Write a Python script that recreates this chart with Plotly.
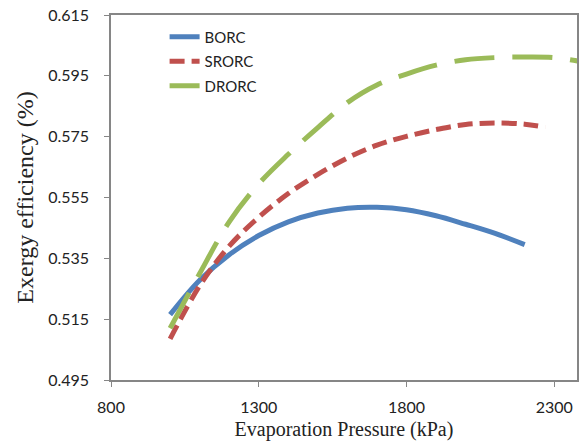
import plotly.graph_objects as go

pressure_borc = [1000, 1100, 1200, 1300, 1400, 1500, 1600, 1700, 1800, 1900, 2000, 2100, 2200]
eff_borc = [0.5165, 0.5278, 0.5362, 0.5425, 0.5470, 0.5499, 0.5515, 0.5518, 0.5510, 0.5490, 0.5462, 0.5432, 0.5395]

pressure_srorc = [1000, 1100, 1200, 1300, 1400, 1500, 1600, 1700, 1800, 1900, 2000, 2100, 2200, 2270]
eff_srorc = [0.5085, 0.5260, 0.5390, 0.5485, 0.5563, 0.5626, 0.5680, 0.5722, 0.5751, 0.5773, 0.5790, 0.5795, 0.5791, 0.5781]

pressure_drorc = [1000, 1100, 1200, 1300, 1400, 1500, 1600, 1700, 1800, 1900, 2000, 2100, 2200, 2300, 2390]
eff_drorc = [0.5120, 0.5300, 0.5470, 0.5595, 0.5692, 0.5780, 0.5862, 0.5920, 0.5956, 0.5985, 0.6003, 0.6010, 0.6012, 0.6010, 0.5997]

series_names = ["BORC", "SRORC", "DRORC"]
colors = ["#4F81BD", "#C0504D", "#9BBB59"]
dashes = ["solid", "15px,7px", "40px,18px"]

fig = go.Figure()
for i, (xs, ys) in enumerate([(pressure_borc, eff_borc), (pressure_srorc, eff_srorc), (pressure_drorc, eff_drorc)]):
    fig.add_trace(go.Scatter(
        x=xs, y=ys, mode="lines", name=series_names[i],
        legendgroup=series_names[i],
        line=dict(color=colors[i], width=5, dash=dashes[i], shape="spline", smoothing=1.0),
    ))

axis_font = dict(family="Lato, Open Sans, sans-serif", size=16, color="#222")
xtitle_font = dict(family="Liberation Serif, Times New Roman, serif", size=20, color="#222")
ytitle_font = dict(family="Liberation Serif, Times New Roman, serif", size=24, color="#222")

fig.update_layout(
    width=582, height=443,
    margin=dict(l=111, r=3, t=15, b=63),
    paper_bgcolor="white", plot_bgcolor="white",
    showlegend=True,
    legend=dict(
        x=0.115, y=0.985, xanchor="left", yanchor="top",
        bgcolor="rgba(0,0,0,0)", font=dict(family="Lato, Open Sans, sans-serif", size=15, color="#222"),
        tracegroupgap=2, itemwidth=30,
    ),
    xaxis=dict(
        range=[800, 2377], tick0=800, dtick=500, showgrid=False, zeroline=False,
        showline=True, linecolor="#868686", linewidth=1.5, mirror=True,
        ticks="outside", ticklen=5, tickcolor="#868686",
        tickfont=axis_font, ticklabelstandoff=7,
        title=dict(text="Evaporation Pressure (kPa)", font=xtitle_font, standoff=7),
    ),
    yaxis=dict(
        range=[0.495, 0.615], tick0=0.495, dtick=0.02, tickformat=".3f", showgrid=False, zeroline=False,
        showline=True, linecolor="#868686", linewidth=1.5, mirror=True,
        ticks="outside", ticklen=5, tickcolor="#868686",
        tickfont=axis_font, ticklabelstandoff=12,
        title=dict(text="Exergy efficiency (%)", font=ytitle_font, standoff=8),
    ),
)

fig.write_html("out.html", config={"displayModeBar": False},
               post_script="document.body.style.margin='0';document.body.style.padding='0';")
